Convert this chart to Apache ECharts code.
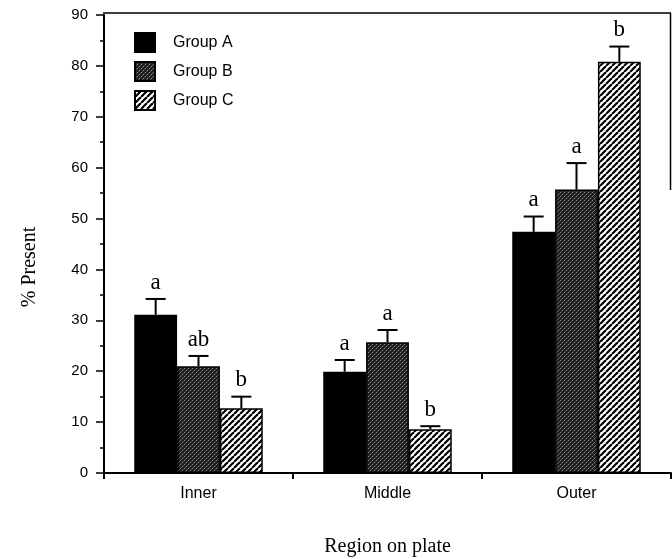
<!DOCTYPE html>
<html>
<head>
    <meta charset="UTF-8">
    <title>% Present by region</title>
    <script src="https://cdn.jsdelivr.net/npm/echarts@6/dist/echarts.min.js"></script>
    <style>
        html, body { margin: 0; padding: 0; background: #fff; }
    </style>
</head>
<body>
<div id="main" style="width: 672px;height:559px;"></div>
<script type="text/javascript">
    // data
    var categories = ['Inner', 'Middle', 'Outer'];
    var groupNames = ['Group A', 'Group B', 'Group C'];
    var groupA = [31.1, 19.9, 47.4];
    var groupB = [21.0, 25.7, 55.7];
    var groupC = [12.7, 8.6, 80.8];
    var errA = [3.1, 2.3, 3.0];
    var errB = [2.0, 2.4, 5.2];
    var errC = [2.3, 0.6, 3.0];
    var lettersA = ['a', 'a', 'a'];
    var lettersB = ['ab', 'a', 'a'];
    var lettersC = ['b', 'b', 'b'];

    var catGap = 0.32;

    // fill patterns
    function stipple() {
        var c = document.createElement('canvas');
        c.width = 4; c.height = 4;
        var ctx = c.getContext('2d');
        ctx.fillStyle = '#1e1e1e';
        ctx.fillRect(0, 0, 4, 4);
        ctx.fillStyle = '#8a8a8a';
        ctx.fillRect(0, 0, 1, 1);
        ctx.fillRect(2, 2, 1, 1);
        ctx.fillStyle = '#555';
        ctx.fillRect(3, 1, 1, 1);
        ctx.fillRect(1, 3, 1, 1);
        return c;
    }
    function hatch() {
        var n = 6;
        var c = document.createElement('canvas');
        c.width = n; c.height = n;
        var ctx = c.getContext('2d');
        ctx.fillStyle = '#fff';
        ctx.fillRect(0, 0, n, n);
        ctx.strokeStyle = '#000';
        ctx.lineWidth = 2.2;
        for (var k = -1; k <= 1; k++) {
            ctx.beginPath();
            ctx.moveTo(k * n, n);
            ctx.lineTo(k * n + n, 0);
            ctx.stroke();
        }
        return c;
    }
    var fills = [
        '#000',
        { image: stipple(), repeat: 'repeat' },
        { image: hatch(), repeat: 'repeat' }
    ];

    function barSeries(name, values, k) {
        return {
            name: name,
            type: 'bar',
            data: values,
            barGap: '0%',
            barCategoryGap: (catGap * 100) + '%',
            itemStyle: {
                color: fills[k],
                borderColor: '#000',
                borderWidth: 1.5
            }
        };
    }

    function errorSeries(values, errs, letters, k) {
        var d = values.map(function (v, i) { return [i, v, v + errs[i], letters[i]]; });
        return {
            type: 'custom',
            data: d,
            encode: { x: 0, y: [1, 2] },
            z: 5,
            renderItem: function (params, api) {
                var i = api.value(0);
                var band = api.size([1, 0])[0];
                var bw = band * (1 - catGap) / 3;
                var base = api.coord([i, api.value(1)]);
                var top = api.coord([i, api.value(2)]);
                var x = base[0] + (k - 1) * bw;
                var cap = 10;
                var st = { stroke: '#000', lineWidth: 2 };
                return {
                    type: 'group',
                    children: [
                        { type: 'line', shape: { x1: x, y1: base[1], x2: x, y2: top[1] }, style: st },
                        { type: 'line', shape: { x1: x - cap, y1: top[1], x2: x + cap, y2: top[1] }, style: st },
                        {
                            type: 'text',
                            style: {
                                x: x, y: top[1] - 5,
                                text: letters[i],
                                align: 'center', verticalAlign: 'bottom',
                                font: '23px "Liberation Serif", serif',
                                fill: '#000'
                            }
                        }
                    ]
                };
            }
        };
    }

    var myChart = echarts.init(document.getElementById('main'));

    var option = {
        backgroundColor: '#fff',
        animation: false,
        grid: { left: 104, right: 1, top: 15, bottom: 86, outerBoundsMode: 'none', containLabel: false },
        legend: {
            data: groupNames,
            icon: 'rect',
            orient: 'vertical',
            left: 129,
            top: 27,
            itemWidth: 20,
            itemHeight: 19,
            itemGap: 8,
            textStyle: {
                fontFamily: 'Liberation Sans',
                fontSize: 16,
                color: '#000',
                padding: [0, 0, 0, 13]
            }
        },
        xAxis: {
            type: 'category',
            data: categories,
            name: 'Region on plate',
            nameLocation: 'middle',
            nameGap: 64,
            nameTextStyle: { fontFamily: 'Liberation Serif', fontSize: 20, color: '#000' },
            axisLine: { lineStyle: { color: '#000', width: 2 } },
            axisTick: { show: true, length: 6, lineStyle: { color: '#000', width: 2 } },
            axisLabel: { fontFamily: 'Liberation Sans', fontSize: 16, color: '#000', margin: 13 }
        },
        yAxis: {
            type: 'value',
            min: 0,
            max: 90,
            interval: 10,
            name: '% Present',
            nameLocation: 'middle',
            nameGap: 64,
            nameTextStyle: { fontFamily: 'Liberation Serif', fontSize: 20, color: '#000', padding: [0, 46, 0, 0] },
            splitLine: { show: false },
            axisLine: { show: true, lineStyle: { color: '#000', width: 2 } },
            axisTick: { show: true, length: 8, lineStyle: { color: '#000', width: 1.5 } },
            minorTick: { show: true, splitNumber: 2, length: 4, lineStyle: { color: '#000', width: 1.5 } },
            axisLabel: { fontFamily: 'Liberation Sans', fontSize: 15, color: '#000', margin: 16 }
        },
        graphic: [
            { type: 'line', shape: { x1: 103, y1: 13, x2: 671, y2: 13 }, style: { stroke: '#000', lineWidth: 1.5 } },
            { type: 'line', shape: { x1: 670.5, y1: 13, x2: 670.5, y2: 190 }, style: { stroke: '#000', lineWidth: 1.5 } }
        ],
        series: [
            barSeries('Group A', groupA, 0),
            barSeries('Group B', groupB, 1),
            barSeries('Group C', groupC, 2),
            errorSeries(groupA, errA, lettersA, 0),
            errorSeries(groupB, errB, lettersB, 1),
            errorSeries(groupC, errC, lettersC, 2)
        ]
    };

    myChart.setOption(option);
</script>
</body>
</html>
